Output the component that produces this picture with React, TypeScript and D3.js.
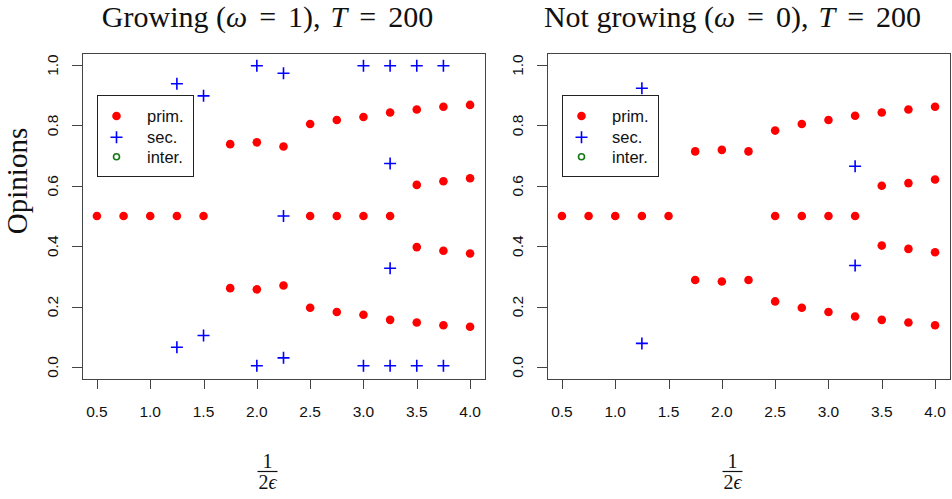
import React, { useEffect, useRef } from "react";
import * as d3 from "d3";

// ---- data ----
const xTicks = [0.5, 1.0, 1.5, 2.0, 2.5, 3.0, 3.5, 4.0];
const yTicks = [0.0, 0.2, 0.4, 0.6, 0.8, 1.0];

// Growing panel: primary clusters [x, y]
const growPrimX = [0.5, 0.75, 1.0, 1.25, 1.5, 1.75, 1.75, 2.0, 2.0, 2.25, 2.25, 2.5, 2.5, 2.5, 2.75, 2.75, 2.75, 3.0, 3.0, 3.0, 3.25, 3.25, 3.25, 3.5, 3.5, 3.5, 3.5, 3.75, 3.75, 3.75, 3.75, 4.0, 4.0, 4.0, 4.0];
const growPrimY = [0.5, 0.5, 0.5, 0.5, 0.5, 0.738, 0.261, 0.744, 0.257, 0.730, 0.270, 0.805, 0.5, 0.196, 0.818, 0.5, 0.182, 0.828, 0.5, 0.173, 0.843, 0.5, 0.156, 0.853, 0.603, 0.397, 0.147, 0.862, 0.615, 0.385, 0.138, 0.868, 0.625, 0.376, 0.133];
const growSecX = [1.25, 1.25, 1.5, 1.5, 2.0, 2.0, 2.25, 2.25, 2.25, 3.0, 3.0, 3.25, 3.25, 3.25, 3.25, 3.5, 3.5, 3.75, 3.75];
const growSecY = [0.938, 0.065, 0.898, 0.104, 0.998, 0.004, 0.973, 0.5, 0.030, 0.998, 0.004, 0.998, 0.674, 0.327, 0.004, 0.998, 0.004, 0.998, 0.004];

// Not growing panel
const flatPrimX = [0.5, 0.75, 1.0, 1.25, 1.5, 1.75, 1.75, 2.0, 2.0, 2.25, 2.25, 2.5, 2.5, 2.5, 2.75, 2.75, 2.75, 3.0, 3.0, 3.0, 3.25, 3.25, 3.25, 3.5, 3.5, 3.5, 3.5, 3.75, 3.75, 3.75, 3.75, 4.0, 4.0, 4.0, 4.0];
const flatPrimY = [0.5, 0.5, 0.5, 0.5, 0.5, 0.714, 0.288, 0.719, 0.283, 0.714, 0.288, 0.783, 0.5, 0.217, 0.805, 0.5, 0.196, 0.818, 0.5, 0.182, 0.832, 0.5, 0.167, 0.843, 0.600, 0.402, 0.156, 0.853, 0.609, 0.391, 0.147, 0.862, 0.621, 0.380, 0.138];
const flatSecX = [1.25, 1.25, 3.25, 3.25];
const flatSecY = [0.923, 0.078, 0.665, 0.336];

const legendLabels = ["prim.", "sec.", "inter."];

const RED = "#ff0000";
const BLUE = "#0000ff";
const GREEN = "#137a13";
const AXIS = "#444444";
const SANS = "'Liberation Sans', Arial, sans-serif";
const SERIF = "'Liberation Serif', 'Times New Roman', serif";

type Panel = {
  left: number;
  titleMain: string;
  omega: string;
  primX: number[];
  primY: number[];
  secX: number[];
  secY: number[];
};

const panels: Panel[] = [
  { left: 82, titleMain: "Growing", omega: "1", primX: growPrimX, primY: growPrimY, secX: growSecX, secY: growSecY },
  { left: 547, titleMain: "Not growing", omega: "0", primX: flatPrimX, primY: flatPrimY, secX: flatSecX, secY: flatSecY },
];

const W = 952;
const H = 499;
const PLOT_W = 403;
const TOP = 53;
const BOTTOM = 379;

export default function App() {
  const ref = useRef<SVGSVGElement | null>(null);

  useEffect(() => {
    const svg = d3.select(ref.current);
    svg.selectAll("*").remove();
    svg.append("rect").attr("width", W).attr("height", H).attr("fill", "#fff");

    const y = d3.scaleLinear().domain([-0.04, 1.04]).range([BOTTOM, TOP]);

    panels.forEach((p) => {
      const x = d3.scaleLinear().domain([0.36, 4.14]).range([p.left, p.left + PLOT_W]);
      const g = svg.append("g");
      const labelCx = p.left + PLOT_W / 2 - 16;

      // box
      g.append("rect")
        .attr("x", p.left + 0.5)
        .attr("y", TOP + 0.5)
        .attr("width", PLOT_W)
        .attr("height", BOTTOM - TOP)
        .attr("fill", "none")
        .attr("stroke", AXIS)
        .attr("stroke-width", 1);

      // x ticks
      xTicks.forEach((t) => {
        const px = Math.round(x(t)) + 0.5;
        g.append("line").attr("x1", px).attr("x2", px).attr("y1", BOTTOM).attr("y2", BOTTOM + 10).attr("stroke", AXIS);
        g.append("text")
          .attr("x", x(t))
          .attr("y", 416.5)
          .attr("text-anchor", "middle")
          .attr("font-family", SANS)
          .attr("font-size", 15.5)
          .attr("fill", "#111")
          .text(t.toFixed(1));
      });

      // y ticks
      yTicks.forEach((t) => {
        const py = Math.round(y(t)) + 0.5;
        g.append("line").attr("x1", p.left - 10).attr("x2", p.left).attr("y1", py).attr("y2", py).attr("stroke", AXIS);
        g.append("text")
          .attr("transform", `translate(${p.left - 24.5},${y(t)}) rotate(-90)`)
          .attr("text-anchor", "middle")
          .attr("font-family", SANS)
          .attr("font-size", 15.5)
          .attr("fill", "#111")
          .text(t.toFixed(1));
      });

      // primary points
      g.append("g")
        .selectAll("circle")
        .data(p.primX.map((v, i) => [v, p.primY[i]]))
        .join("circle")
        .attr("cx", (d) => x(d[0]))
        .attr("cy", (d) => y(d[1]))
        .attr("r", 4.3)
        .attr("fill", RED);

      // secondary points (+)
      g.append("g")
        .selectAll("path")
        .data(p.secX.map((v, i) => [v, p.secY[i]]))
        .join("path")
        .attr("d", "M-6,0H6M0,-6V6")
        .attr("transform", (d) => `translate(${x(d[0])},${y(d[1])})`)
        .attr("stroke", BLUE)
        .attr("stroke-width", 1.6)
        .attr("fill", "none");

      // legend
      const lx = p.left + 15;
      const ly = 95;
      const lg = g.append("g");
      lg.append("rect")
        .attr("x", lx + 0.5)
        .attr("y", ly + 0.5)
        .attr("width", 96)
        .attr("height", 81)
        .attr("fill", "#fff")
        .attr("stroke", "#222");
      const rows = [116, 137.3, 156.7];
      legendLabels.forEach((lab, i) => {
        const sx = lx + 19.5;
        const sy = rows[i];
        if (i === 0) lg.append("circle").attr("cx", sx).attr("cy", sy).attr("r", 4.3).attr("fill", RED);
        if (i === 1)
          lg.append("path")
            .attr("d", "M-6,0H6M0,-6V6")
            .attr("transform", `translate(${sx},${sy})`)
            .attr("stroke", BLUE)
            .attr("stroke-width", 1.6);
        if (i === 2)
          lg.append("circle").attr("cx", sx).attr("cy", sy).attr("r", 3).attr("fill", "none").attr("stroke", GREEN).attr("stroke-width", 1.6);
        lg.append("text")
          .attr("x", lx + 50)
          .attr("y", sy + 5.8)
          .attr("font-family", SANS)
          .attr("font-size", 16.5)
          .attr("fill", "#111")
          .text(lab);
      });

      // title
      const title = g.append("text")
        .attr("x", labelCx)
        .attr("y", 27)
        .attr("text-anchor", "middle")
        .attr("font-family", SERIF)
        .attr("font-size", 30)
        .attr("fill", "#111");
      title.append("tspan").text(`${p.titleMain} (`);
      title.append("tspan").attr("font-style", "italic").text("ω");
      title.append("tspan").attr("dx", 12).text("=");
      title.append("tspan").attr("dx", 12).text(`${p.omega}),`);
      title.append("tspan").attr("dx", 10).attr("font-style", "italic").text("T");
      title.append("tspan").attr("dx", 12).text("=");
      title.append("tspan").attr("dx", 12).text("200");

      // x label fraction
      const fg = g.append("g").attr("font-family", SERIF).attr("fill", "#111");
      fg.append("text").attr("x", labelCx).attr("y", 468).attr("text-anchor", "middle").attr("font-size", 20).text("1");
      fg.append("line")
        .attr("x1", labelCx - 10)
        .attr("x2", labelCx + 10)
        .attr("y1", 471.5)
        .attr("y2", 471.5)
        .attr("stroke", "#111")
        .attr("stroke-width", 1.2);
      const den = fg.append("text").attr("x", labelCx).attr("y", 489).attr("text-anchor", "middle").attr("font-size", 20);
      den.append("tspan").text("2");
      den.append("tspan").attr("font-style", "italic").text("ϵ");
    });

    // y label
    svg.append("text")
      .attr("transform", `translate(27,181) rotate(-90)`)
      .attr("text-anchor", "middle")
      .attr("font-family", SERIF)
      .attr("font-size", 29)
      .attr("fill", "#111")
      .text("Opinions");
  }, []);

  return <svg ref={ref} width={W} height={H} style={{ display: "block", position: "absolute", left: 0, top: 0 }} />;
}
